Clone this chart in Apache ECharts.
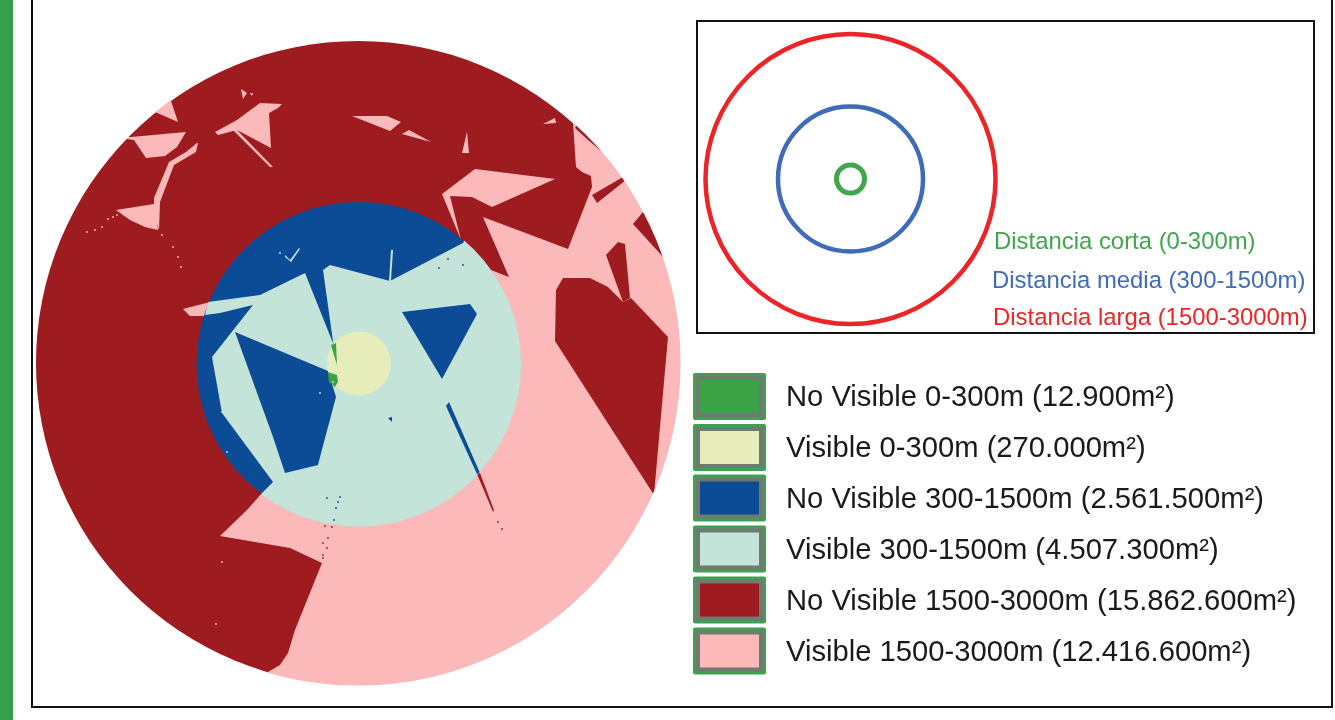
<!DOCTYPE html>
<html><head><meta charset="utf-8">
<style>html,body{margin:0;padding:0;background:#fff}#c{width:1335px;height:720px}</style>
<script src="https://cdn.jsdelivr.net/npm/echarts@6/dist/echarts.min.js"></script>
</head><body><div id="c"></div>
<script>
// Classes
const legendLabels = ['No Visible 0-300m (12.900m²)','Visible 0-300m (270.000m²)','No Visible 300-1500m (2.561.500m²)','Visible 300-1500m (4.507.300m²)','No Visible 1500-3000m (15.862.600m²)','Visible 1500-3000m (12.416.600m²)'];
const legendColors = ['#3da146','#e6edba','#0c4c97','#c4e4d9','#9e1b20','#fcb9b9'];
const legendCentersY = [396.5,447.5,498,549,600,651];
const rangeLabels = ['Distancia corta (0-300m)','Distancia media (300-1500m)','Distancia larga (1500-3000m)'];
const rangeColors = ['#3fa64c','#3f6cb8','#ec2327'];
const rangeRadii = [14,72.5,145];
const rangeLabelX = [994,992,993];
const rangeLabelY = [242,281,318];
const insetCenter = [850.5,179];
// Zones of the map (map coordinates)
const farDisc = [358,363,322];
const midDisc = [358.5,364,162];
const nearDisc = [359,363.5,32];
// Visible 1500-3000m
const visibleFarMain = [[573,123],[600,95],[760,200],[760,720],[255,700],[268,672],[280,665],[288,653],[295,630],[322,563],[290,548],[220,536],[247,510],[262,493],[400,400],[470,262],[509,277],[483,217],[568,249],[592,187],[591,176],[582,172],[576,167]];
const visibleFarPatches = [
 [[155,112],[170,98],[178,122]],
 [[120,138],[186,132],[177,147],[165,156],[146,158],[134,140]],
 [[197,143],[198,143],[196,152],[174,165],[160,202],[159,230],[154,215],[154,198],[169,162],[186,152]],
 [[116,210],[154,204],[158,230],[145,227],[130,220]],
 [[215,132],[237,120],[260,103],[282,104],[278,108],[269,113],[271,148],[237,130],[218,135]],
 [[233,130],[237,130],[273,167],[270,167]],
 [[241,89],[247,93],[243,99]],
 [[250,93],[253,93],[252,96]],
 [[352,116],[387,116],[401,122],[390,131]],
 [[402,134],[409,130],[431,142]],
 [[467,132],[469,153],[462,153]],
 [[543,124],[555,118],[556,123]],
 [[442,194],[475,169],[555,179],[492,207],[472,197],[450,196],[461,240]],
 [[183,309],[210,302],[208,316],[190,316]]
];
// No Visible 1500-3000m, over the visible zone
const hiddenFarPatches = [
 [[575,128],[587,139],[601,151],[612,140],[585,112]],
 [[592,195],[623,177],[626,180],[597,203]],
 [[643,212],[633,224],[664,258],[675,235]],
 [[618,242],[606,255],[623,302],[630,298],[625,244]],
 [[556,290],[563,278],[590,278],[608,287],[623,302],[631,298],[668,337],[654,495],[555,341]],
 [[477,474],[480,473],[494,510],[493,512]]
];
// Visible 300-1500m
const visibleMid = [[463,243],[390,281],[330,265],[323,270],[336,363],[333,343],[305,273],[260,295],[208,302],[205,315],[220,313],[253,305],[212,357],[222,413],[273,482],[262,493],[250,570],[560,570],[560,200],[477,220]];
const visibleMidSlivers = [
 [[389,281],[391,250],[393,250],[391,281]],
 [[285,255],[290,260],[299,248],[300,249],[291,262],[285,257]]
];
// No Visible 300-1500m, over the visible zone
const hiddenMidPatches = [
 [[235,332],[328,371],[336,397],[320,457],[318,465],[285,473],[273,437]],
 [[402,312],[470,304],[477,314],[442,379]],
 [[446,406],[449,402],[480,473],[477,474]],
 [[388,418],[392,417],[392,422]]
];
// No Visible 0-300m
const hiddenNearPatches = [
 [[331,345],[336,343],[337,365]],
 [[328,372],[337,375],[338,382],[335,387],[329,382]]
];
// Isolated specks
const specksPink = [[87,232],[95,230],[102,227],[108,219],[113,217],[117,215],[162,235],[173,247],[178,257],[181,267],[216,624],[222,562]];
const specksBlue = [[340,497],[338,502],[336,508],[334,520],[327,498],[448,259],[439,268],[463,265]];
const specksRed = [[323,543],[327,548],[328,538],[332,527],[325,526],[323,558],[323,555],[498,522],[502,529]];
const specksTeal = [[392,252],[280,253],[222,412],[227,452],[333,382],[320,393]];

const FAR='far',MID='mid',NEAR='near';
const discOf={far:farDisc,mid:midDisc,near:nearDisc};
const layers=[];
const addDisc=(d,c)=>layers.push({disc:d,color:c});
const addPoly=(p,c,clip)=>layers.push({poly:p,color:c,clip});
addDisc(farDisc,legendColors[4]);
addPoly(visibleFarMain,legendColors[5],FAR);
visibleFarPatches.forEach(p=>addPoly(p,legendColors[5],FAR));
hiddenFarPatches.forEach(p=>addPoly(p,legendColors[4],FAR));
addDisc(midDisc,legendColors[2]);
addPoly(visibleMid,legendColors[3],MID);
visibleMidSlivers.forEach(p=>addPoly(p,legendColors[3],MID));
hiddenMidPatches.forEach(p=>addPoly(p,legendColors[2],MID));
addDisc(nearDisc,legendColors[1]);
hiddenNearPatches.forEach(p=>addPoly(p,legendColors[0]));
[[specksPink,5],[specksBlue,2],[specksRed,4],[specksTeal,3]].forEach(([s,i])=>s.forEach(pt=>layers.push({speck:pt,color:legendColors[i]})));

function circleShape(api,d,extra){const c=api.coord([d[0],d[1]]);return {cx:c[0],cy:c[1],r:api.size([d[2],0])[0]+(extra||0)};}
function renderLayer(params,api){
  const l=layers[api.value(0)];
  if(l.disc) return {type:'circle',shape:circleShape(api,l.disc),style:{fill:l.color}};
  if(l.speck){const c=api.coord(l.speck);return {type:'circle',shape:{cx:c[0],cy:c[1],r:0.9},style:{fill:l.color}};}
  const el={type:'polygon',shape:{points:l.poly.map(p=>api.coord(p))},style:{fill:l.color}};
  if(l.clip) el.clipPath={type:'circle',shape:circleShape(api,discOf[l.clip],0.6)};
  return el;
}
function rectEl(api,x0,y0,x1,y1,style){
  const a=api.coord([x0,y0]),b=api.coord([x1,y1]);
  return {type:'rect',shape:{x:a[0],y:a[1],width:b[0]-a[0],height:b[1]-a[1]},style};
}
function renderLegend(params,api){
  const i=api.value(0),y=legendCentersY[i],p=api.coord([786,y+1.5]);
  return {type:'group',children:[
    Object.assign(rectEl(api,693,y-23.5,766,y+23.5,{fill:'#3da14f'}),{shape:Object.assign(rectEl(api,693,y-23.5,766,y+23.5,{}).shape,{r:2})}),
    rectEl(api,696,y-20.5,763,y+20.5,{fill:'#6f7a70'}),
    rectEl(api,700,y-16.5,759,y+16.5,{fill:legendColors[i]}),
    {type:'text',x:p[0],y:p[1],style:{text:legendLabels[i],fontFamily:'Liberation Sans',fontSize:29.2,fill:'#1a1a1a',textAlign:'left',textVerticalAlign:'middle'}}
  ]};
}
function renderInset(params,api){
  const i=api.value(0),c=api.coord(insetCenter),r=api.size([rangeRadii[i],0])[0],p=api.coord([rangeLabelX[i],rangeLabelY[i]]);
  return {type:'group',children:[
    {type:'circle',shape:{cx:c[0],cy:c[1],r},style:{fill:'none',stroke:rangeColors[i],lineWidth:i===0?5:4.5}},
    {type:'text',x:p[0],y:p[1],style:{text:rangeLabels[i],fontFamily:'Liberation Sans',fontSize:23.9,fill:rangeColors[i],textAlign:'left',textVerticalAlign:'middle'}}
  ]};
}
function renderFrames(params,api){
  return {type:'group',children:[
    rectEl(api,0,0,13,720,{fill:'#35a04a'}),
    rectEl(api,32,-10,1332,707,{fill:'none',stroke:'#111',lineWidth:2}),
    rectEl(api,697,21,1314,333,{fill:'none',stroke:'#111',lineWidth:2})
  ]};
}
const idx=n=>Array.from({length:n},(_,i)=>[i]);
const chart=echarts.init(document.getElementById('c'));
chart.setOption({
  animation:false,
  backgroundColor:'#fff',
  grid:{left:0,right:0,top:0,bottom:0},
  xAxis:{type:'value',min:0,max:1335,show:false},
  yAxis:{type:'value',min:0,max:720,inverse:true,show:false},
  series:[
    {type:'custom',name:'frames',coordinateSystem:'cartesian2d',clip:false,data:[[0]],renderItem:renderFrames,silent:true,z:1},
    {type:'custom',name:'map',coordinateSystem:'cartesian2d',clip:false,data:idx(layers.length),renderItem:renderLayer,silent:true,z:2},
    {type:'custom',name:'ranges',coordinateSystem:'cartesian2d',clip:false,data:idx(rangeLabels.length),renderItem:renderInset,silent:true,z:3},
    {type:'custom',name:'legend',coordinateSystem:'cartesian2d',clip:false,data:idx(legendLabels.length),renderItem:renderLegend,silent:true,z:3}
  ]
});
</script></body></html>
